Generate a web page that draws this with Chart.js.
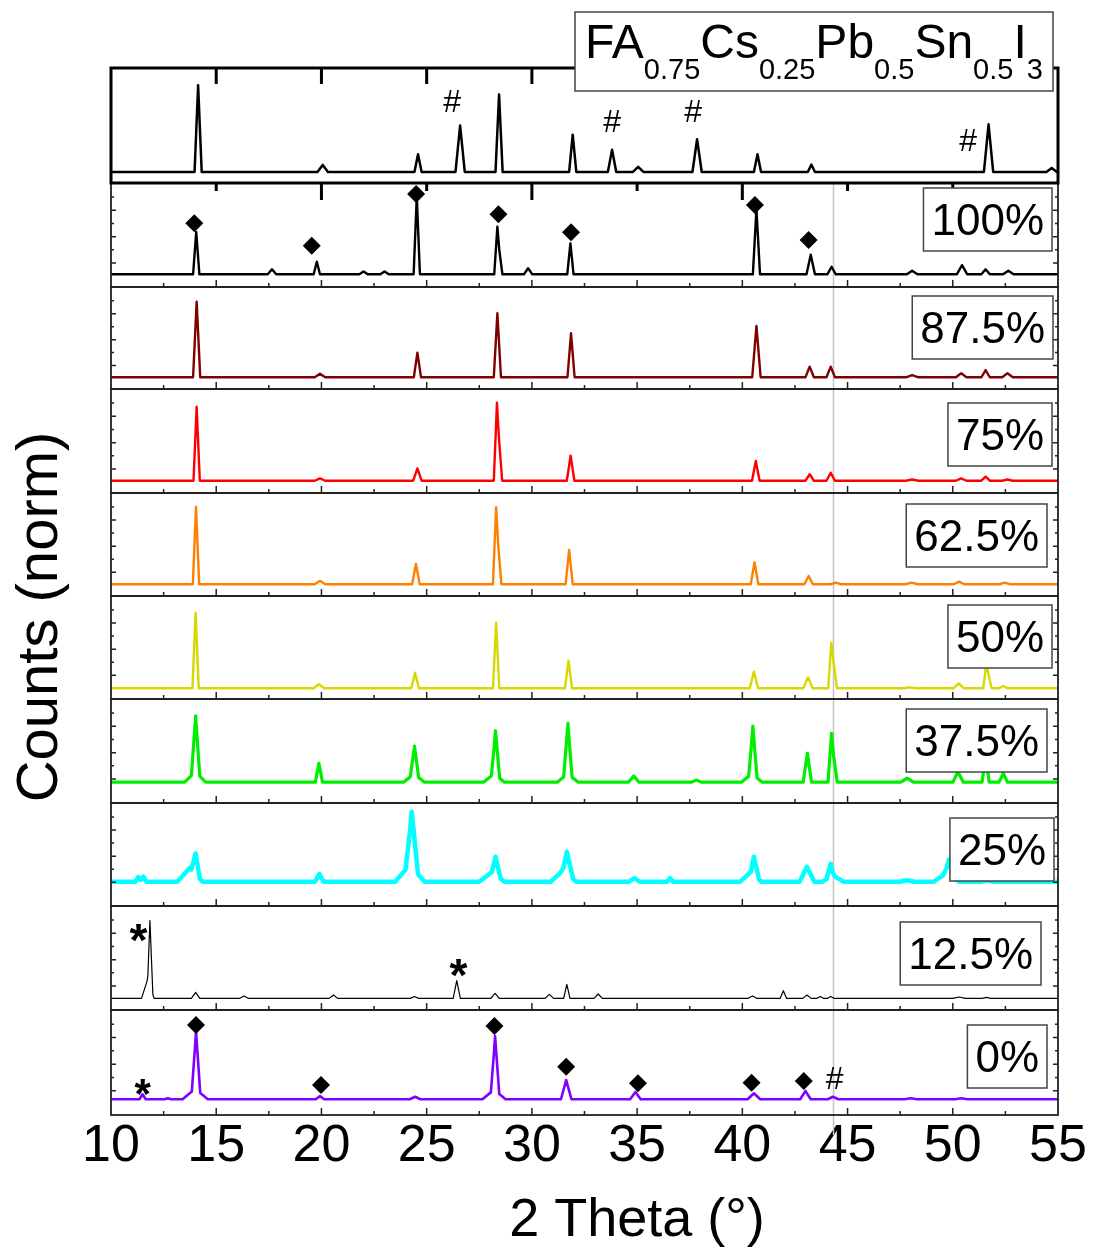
<!doctype html>
<html>
<head>
<meta charset="UTF-8" />
<script src="https://cdn.jsdelivr.net/npm/chart.js"></script>
<style>
  html, body { margin: 0; padding: 0; background: #fff; }
  #wrap { width: 1094px; height: 1249px; position: relative; }
</style>
</head>
<body>
<div id="wrap"><canvas id="xrd"></canvas></div>
<script>
// panels from top to bottom, the first one is the reference pattern
const samples = ["ref", "100%", "87.5%", "75%", "62.5%", "50%", "37.5%", "25%", "12.5%", "0%"];
const colors = ["#000000", "#000000", "#800000", "#ff0000", "#ff8000", "#d8d800", "#00ee00", "#00ffff", "#000000", "#8000ff"];

const xTicks = [10, 15, 20, 25, 30, 35, 40, 45, 50, 55];
const yTicks = [0.23, 0.357, 0.484, 0.611, 0.738, 0.865];

// baseline level of every pattern (normalised counts)
const baselines = [0.096, 0.122, 0.115, 0.118, 0.114, 0.104, 0.2, 0.236, 0.112, 0.15];
// default half width of a peak foot, in degrees
const halfWidths = [0.17, 0.15, 0.17, 0.15, 0.15, 0.15, 0.17, 0.3, 0.12, 0.17];

// peaks: [2 theta, height, optional half width]
const peaksRef = [[14.14, 0.85], [20.06, 0.157, 0.25], [24.59, 0.25], [26.59, 0.5, 0.22], [28.44, 0.77],
  [31.94, 0.42], [33.81, 0.29, 0.2], [35.05, 0.14, 0.25], [37.85, 0.38, 0.22], [40.72, 0.25],
  [43.28, 0.16], [51.7, 0.51, 0.22], [54.7, 0.13, 0.25]];
const peaks100 = [[14.05, 0.53], [17.65, 0.17, 0.2], [19.78, 0.243], [22.0, 0.15, 0.2], [23.0, 0.15, 0.2],
  [24.53, 0.87], [28.36, 0.58], [28.45, 0.356], [29.82, 0.18, 0.2], [31.83, 0.42], [40.67, 0.75, 0.17],
  [43.25, 0.31, 0.2], [44.24, 0.195, 0.2], [48.07, 0.157, 0.25], [50.44, 0.21, 0.25], [51.56, 0.17, 0.2],
  [52.64, 0.157, 0.25]];
const peaks87 = [[14.07, 0.856], [19.93, 0.15, 0.25], [24.56, 0.356], [28.36, 0.742], [31.86, 0.546],
  [40.67, 0.618, 0.2], [43.2, 0.219, 0.2], [44.2, 0.219, 0.2], [48.07, 0.137, 0.3], [50.4, 0.154, 0.25],
  [51.56, 0.186, 0.2], [52.6, 0.154, 0.25]];
const peaks75 = [[14.07, 0.83], [19.93, 0.141, 0.25], [24.56, 0.237, 0.2], [28.34, 0.868], [28.44, 0.51],
  [31.84, 0.359, 0.18], [40.64, 0.308, 0.18], [43.2, 0.18, 0.2], [44.2, 0.195, 0.2], [48.07, 0.13, 0.3],
  [50.4, 0.141, 0.25], [51.56, 0.157, 0.2], [52.6, 0.13, 0.25]];
const peaks62 = [[14.04, 0.867], [19.93, 0.149, 0.25], [24.49, 0.311, 0.18], [28.3, 0.861], [28.4, 0.495],
  [31.77, 0.447, 0.17], [40.58, 0.327, 0.18], [43.15, 0.194, 0.2], [44.45, 0.13, 0.25], [48.04, 0.13, 0.3],
  [50.3, 0.139, 0.25], [52.47, 0.13, 0.25]];
const peaks50 = [[14.02, 0.838], [19.88, 0.143, 0.25], [24.45, 0.255, 0.18], [28.3, 0.741], [31.74, 0.372, 0.17],
  [40.55, 0.265, 0.2], [43.12, 0.21, 0.22], [44.23, 0.547], [44.35, 0.33], [47.93, 0.113, 0.3],
  [50.28, 0.152, 0.25], [51.6, 0.36], [51.7, 0.233], [52.4, 0.126, 0.2]];
const peaks37 = [[14.02, 0.837, 0.2], [14.0, 0.3, 0.5], [19.88, 0.382], [24.42, 0.548, 0.2], [24.4, 0.28, 0.5],
  [28.27, 0.695, 0.2], [28.2, 0.28, 0.5], [31.71, 0.766, 0.2], [31.7, 0.28, 0.5], [34.84, 0.26, 0.25],
  [37.82, 0.22, 0.25], [40.5, 0.74, 0.2], [40.45, 0.28, 0.5], [43.09, 0.478, 0.2], [44.24, 0.67],
  [44.34, 0.45], [47.83, 0.24, 0.3], [50.25, 0.3, 0.25], [51.56, 0.45], [52.4, 0.285, 0.2]];
const peaks25 = [[11.3, 0.28, 0.15], [11.54, 0.285, 0.15], [13.75, 0.37, 0.6], [14.02, 0.51, 0.2],
  [19.9, 0.31, 0.2], [24.29, 0.915], [24.2, 0.4, 0.7], [28.27, 0.479, 0.25], [28.1, 0.33, 0.6],
  [31.66, 0.527], [31.5, 0.35, 0.6], [34.87, 0.27, 0.25], [36.57, 0.27, 0.15], [40.55, 0.479, 0.25],
  [40.4, 0.33, 0.5], [43.07, 0.38, 0.35], [44.2, 0.41, 0.2], [44.3, 0.3, 0.5], [47.83, 0.25, 0.35],
  [49.82, 0.45], [49.7, 0.32, 0.6], [51.63, 0.25]];
const peaks12 = [[11.75, 0.3, 0.3], [11.85, 0.859, 0.14], [14.02, 0.17, 0.2], [16.32, 0.135, 0.2],
  [20.57, 0.144, 0.2], [24.42, 0.13, 0.2], [26.43, 0.282, 0.17], [28.25, 0.16, 0.2], [30.83, 0.15, 0.2],
  [31.66, 0.247, 0.15], [33.15, 0.154, 0.2], [40.48, 0.135, 0.2], [41.95, 0.186, 0.15], [43.07, 0.144, 0.2],
  [43.7, 0.13, 0.15], [44.2, 0.13, 0.15], [50.3, 0.125, 0.3], [51.6, 0.122, 0.2]];
const peaks0 = [[11.5, 0.197, 0.15], [12.7, 0.16, 0.15], [14.04, 0.8, 0.2], [14.0, 0.25, 0.6], [19.93, 0.18, 0.2],
  [24.45, 0.174, 0.25], [28.25, 0.752, 0.2], [28.2, 0.24, 0.55], [31.63, 0.333, 0.25], [34.92, 0.219, 0.25],
  [40.55, 0.207, 0.3], [43.0, 0.229, 0.25], [44.31, 0.174, 0.25], [48.0, 0.16, 0.3], [50.4, 0.16, 0.3]];
const allPeaks = [peaksRef, peaks100, peaks87, peaks75, peaks62, peaks50, peaks37, peaks25, peaks12, peaks0];

// phase markers [2 theta, height]
const diamonds100 = [[13.96, 0.612], [19.54, 0.397], [24.5, 0.894], [28.41, 0.699], [31.86, 0.526], [40.6, 0.788], [43.15, 0.452]];
const diamonds0 = [[14.04, 0.857], [19.98, 0.286], [28.22, 0.848], [31.63, 0.46], [35.04, 0.302], [40.44, 0.308], [42.92, 0.324]];
const hashRef = [[26.21, 0.696], [33.81, 0.522], [37.66, 0.609], [50.73, 0.357]];
const hash0 = [[44.39, 0.333]];
const stars12 = [[11.3, 0.769], [26.51, 0.433]];
const stars0 = [[11.51, 0.286]];
const guideLine = 44.3;

const FONT = "'Liberation Sans', Arial, sans-serif";
Chart.defaults.font.family = FONT;

// polyline through the peak feet and tops
function trace(base, peaks, hw) {
  const xs = new Set([10, 55]);
  peaks.forEach(([p, h, w = hw]) => { xs.add(p - w); xs.add(p); xs.add(p + w); });
  return [...xs].sort((a, b) => a - b).map(x => {
    let y = base;
    peaks.forEach(([p, h, w = hw]) => {
      const d = Math.abs(x - p);
      if (d < w) y = Math.max(y, h - (h - base) * d / w);
    });
    return { x, y };
  });
}

const panelWeights = [115, 104, 102, 104, 103, 103, 104, 103, 104, 105];
const lineWidths = [2.5, 2.4, 2.4, 2.4, 2.4, 2.4, 3.2, 4.5, 1.2, 2.6];

const datasets = [];
samples.forEach((s, i) => {
  datasets.push({
    type: "line",
    label: s,
    data: trace(baselines[i], allPeaks[i], halfWidths[i]),
    yAxisID: "y" + i,
    borderColor: colors[i],
    borderWidth: lineWidths[i],
    pointRadius: 0,
    tension: 0,
    borderJoinStyle: "round",
    order: 2,
  });
});
[[diamonds100, 1], [diamonds0, 9]].forEach(([pts, i]) => {
  datasets.push({
    type: "scatter",
    data: pts.map(([x, y]) => ({ x, y })),
    yAxisID: "y" + i,
    pointStyle: "rectRot",
    pointRadius: 9,
    pointBackgroundColor: "#000",
    pointBorderWidth: 0,
    showLine: false,
    order: 0,
  });
});

const scales = {
  x: {
    type: "linear", position: "bottom", min: 10, max: 55,
    afterBuildTicks: s => { s.ticks = xTicks.map(v => ({ value: v })); },
    ticks: { color: "#000", font: { size: 52, lineHeight: 1 }, padding: 6, maxRotation: 0, autoSkip: false },
    grid: { display: false, drawTicks: false },
    border: { display: false },
    // the title text is painted by the plugin (it sits right of centre); this keeps its room
    title: { display: true, text: " ", font: { size: 54, lineHeight: 1 }, padding: { top: 12, bottom: 4 } },
  },
};
samples.forEach((s, i) => {
  scales["y" + i] = {
    type: "linear", position: "left", stack: "xrd", stackWeight: panelWeights[i],
    weight: samples.length - i, min: 0, max: 1, display: false,
  };
});

// label boxes: inset from the right edge and from the panel top, in px
const boxInset = [null, [6, 5], [5, 9], [6, 14], [11, 11], [6, 9], [11, 10], [4, 15], [17, 16], [11, 15]];

const decor = {
  id: "decor",
  beforeDatasetsDraw(chart) {
    const ctx = chart.ctx;
    const x = Math.round(chart.scales.x.getPixelForValue(guideLine)) + 0.5;
    ctx.save();
    ctx.strokeStyle = "#c4c4c4";
    ctx.lineWidth = 1.5;
    ctx.beginPath();
    ctx.moveTo(x, chart.scales.y1.top);
    ctx.lineTo(x, chart.chartArea.bottom + 20);
    ctx.stroke();
    ctx.restore();
  },
  afterDatasetsDraw(chart) {
    const ctx = chart.ctx;
    const xs = chart.scales.x;
    const left = chart.chartArea.left, right = chart.chartArea.right;
    ctx.save();

    // panel frames and inward ticks
    for (let i = 1; i < samples.length; i++) {
      const ys = chart.scales["y" + i];
      ctx.strokeStyle = "#222";
      ctx.lineWidth = 1.8;
      ctx.strokeRect(left, ys.top, right - left, ys.bottom - ys.top);
      ctx.lineWidth = 1.5;
      ctx.beginPath();
      for (let v = 12.5; v < 55; v += 2.5) {
        const px = xs.getPixelForValue(v);
        ctx.moveTo(px, ys.bottom);
        ctx.lineTo(px, ys.bottom - (v % 5 === 0 ? 7 : 4));
      }
      yTicks.forEach((v, k) => {
        const py = ys.getPixelForValue(v);
        const len = k % 2 ? 3 : 5;
        ctx.moveTo(left, py); ctx.lineTo(left + len, py);
        ctx.moveTo(right, py); ctx.lineTo(right - len, py);
      });
      ctx.stroke();
    }
    // reference panel, heavier frame
    const y0 = chart.scales.y0;
    ctx.strokeStyle = "#000";
    ctx.lineWidth = 3;
    ctx.strokeRect(left, y0.top, right - left, y0.bottom - y0.top);
    ctx.beginPath();
    for (let v = 15; v < 55; v += 5) {
      const px = xs.getPixelForValue(v);
      ctx.moveTo(px, y0.top);
      ctx.lineTo(px, y0.top + 16);
      ctx.moveTo(px, y0.bottom);
      ctx.lineTo(px, y0.bottom + (v % 10 === 0 && v < 50 ? 17 : 8));
    }
    ctx.stroke();

    // markers
    ctx.fillStyle = "#000";
    ctx.textAlign = "center";
    ctx.textBaseline = "middle";
    ctx.font = "32px " + FONT;
    [[hashRef, "y0"], [hash0, "y9"]].forEach(([pts, id]) => {
      pts.forEach(([x, y]) => ctx.fillText("#", xs.getPixelForValue(x), chart.scales[id].getPixelForValue(y)));
    });
    ctx.textBaseline = "alphabetic";
    [[stars12, "y8", 46], [stars0, "y9", 42]].forEach(([pts, id, fs]) => {
      ctx.font = "bold " + fs + "px " + FONT;
      pts.forEach(([x, y]) => ctx.fillText("*", xs.getPixelForValue(x), chart.scales[id].getPixelForValue(y) + 0.56 * fs));
    });

    // sample label boxes
    ctx.font = "44px " + FONT;
    for (let i = 1; i < samples.length; i++) {
      const ys = chart.scales["y" + i];
      const [inset, off] = boxInset[i];
      const w = ctx.measureText(samples[i]).width + 16;
      const bx = right - inset - w, by = ys.top + off;
      ctx.fillStyle = "#fff";
      ctx.fillRect(bx, by, w, 63);
      ctx.strokeStyle = "#444";
      ctx.lineWidth = 1.5;
      ctx.strokeRect(bx, by, w, 63);
      ctx.fillStyle = "#000";
      ctx.fillText(samples[i], bx + w / 2, by + 47);
    }

    // composition title box
    const parts = [["FA", 0], ["0.75", 1], ["Cs", 0], ["0.25", 1], ["Pb", 0], ["0.5", 1], ["Sn", 0], ["0.5", 1], ["I", 0], ["3", 1]];
    const fMain = "48px " + FONT, fSub = "29px " + FONT;
    let tw = 0;
    parts.forEach(([t, sub]) => { ctx.font = sub ? fSub : fMain; tw += ctx.measureText(t).width; });
    ctx.fillStyle = "#fff";
    ctx.fillRect(575, 12, 478, 79);
    ctx.strokeStyle = "#444";
    ctx.lineWidth = 1.5;
    ctx.strokeRect(575, 12, 478, 79);
    ctx.fillStyle = "#000";
    ctx.textAlign = "left";
    let cx = 814 - tw / 2;
    parts.forEach(([t, sub]) => {
      ctx.font = sub ? fSub : fMain;
      ctx.fillText(t, cx, sub ? 79 : 58);
      cx += ctx.measureText(t).width;
    });

    // x axis title
    ctx.textAlign = "center";
    ctx.font = "54px " + FONT;
    ctx.fillText("2 Theta (°)", 637, 1236);

    // y axis title
    ctx.translate(57, 617);
    ctx.rotate(-Math.PI / 2);
    ctx.font = "58px " + FONT;
    ctx.fillText("Counts (norm)", 0, 0);
    ctx.restore();
  },
};

new Chart(document.getElementById("xrd"), {
  type: "line",
  data: { datasets },
  options: {
    responsive: true,
    maintainAspectRatio: false,
    animation: false,
    events: [],
    layout: { padding: { top: 68, left: 111, right: 36, bottom: 0 } },
    plugins: { legend: { display: false }, tooltip: { enabled: false } },
    scales,
  },
  plugins: [decor],
});
</script>
</body>
</html>
